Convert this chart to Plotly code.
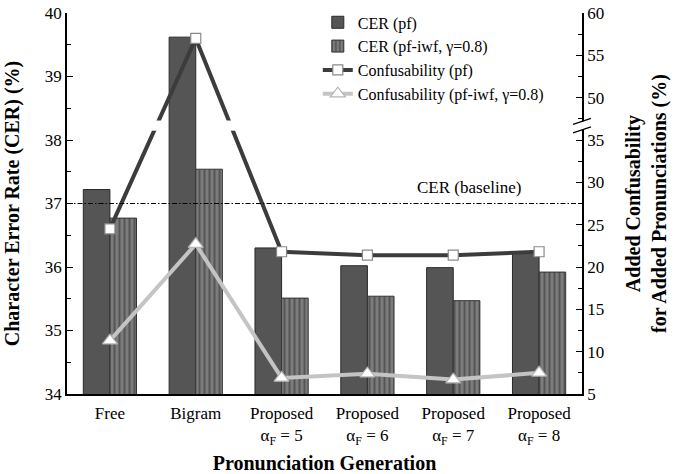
import plotly.graph_objects as go

# ---------------- data ----------------
categories = ["Free", "Bigram",
              "Proposed<br>α<sub>F</sub> = 5", "Proposed<br>α<sub>F</sub> = 6",
              "Proposed<br>α<sub>F</sub> = 7", "Proposed<br>α<sub>F</sub> = 8"]
cer_pf = [37.22, 39.62, 36.30, 36.02, 35.99, 36.22]
cer_pf_iwf = [36.77, 37.54, 35.51, 35.54, 35.47, 35.92]
conf_pf = [24.5, 57.0, 21.8, 21.4, 21.4, 21.8]
conf_pf_iwf = [11.3, 22.7, 6.9, 7.4, 6.7, 7.5]
baseline_cer = 37.0

left_ticks = [34, 35, 36, 37, 38, 39, 40]
right_ticks = [5, 10, 15, 20, 25, 30, 35, 50, 55, 60]

# broken right axis: the interval (40, 50) is cut out
BREAK_LO, BREAK_HI = 40, 50


def broken(v):
    return v if v <= BREAK_LO else v - (BREAK_HI - BREAK_LO)


FONT = "Liberation Serif"

fig = go.Figure()

fig.add_trace(go.Bar(
    x=categories, y=cer_pf, name="CER (pf)",
    marker=dict(color="#555555", line=dict(color="#2a2a2a", width=1)),
))
fig.add_trace(go.Bar(
    x=categories, y=cer_pf_iwf, name="CER (pf-iwf, γ=0.8)",
    marker=dict(color="#6e6e6e", line=dict(color="#333333", width=1),
                pattern=dict(shape="|", bgcolor="#7c7c7c", fgcolor="#555555",
                             size=5, solidity=0.4, fillmode="replace")),
))
fig.add_trace(go.Scatter(
    x=categories, y=[broken(v) for v in conf_pf], name="Confusability (pf)",
    yaxis="y2", mode="lines+markers",
    line=dict(color="#3c3c3c", width=4),
    marker=dict(symbol="square", size=10, color="white",
                line=dict(color="#8a8a8a", width=1.2)),
))
fig.add_trace(go.Scatter(
    x=categories, y=[broken(v) for v in conf_pf_iwf], name="Confusability (pf-iwf, γ=0.8)",
    yaxis="y2", mode="lines+markers",
    line=dict(color="#c4c4c4", width=4),
    marker=dict(symbol="triangle-up", size=13, color="white",
                line=dict(color="#b5b5b5", width=1.2)),
))

gap_lo, gap_hi = 36.1, 37.3
shapes = [
    # baseline CER
    dict(type="line", xref="paper", yref="y", x0=0, x1=1, y0=baseline_cer, y1=baseline_cer,
         line=dict(color="black", width=1.2, dash="5px,2px,1.5px,2px"), layer="above"),
    # gaps in the confusability lines where they cross the axis break
    dict(type="rect", xref="x", yref="y2", x0=0.36, x1=0.66, y0=gap_lo, y1=gap_hi,
         fillcolor="white", line=dict(width=0), layer="above"),
    dict(type="rect", xref="x", yref="y2", x0=1.34, x1=1.66, y0=gap_lo, y1=gap_hi,
         fillcolor="white", line=dict(width=0), layer="above"),
    # break on the right axis line
    dict(type="rect", xref="paper", yref="y2", xsizemode="pixel", xanchor=1,
         x0=-3, x1=3, y0=36.2, y1=37.2, fillcolor="white", line=dict(width=0), layer="above"),
    dict(type="line", xref="paper", yref="y2", xsizemode="pixel", xanchor=1,
         ysizemode="pixel", yanchor=36.2, x0=-9, x1=9, y0=-3, y1=3,
         line=dict(color="black", width=1.3), layer="above"),
    dict(type="line", xref="paper", yref="y2", xsizemode="pixel", xanchor=1,
         ysizemode="pixel", yanchor=37.2, x0=-9, x1=9, y0=-3, y1=3,
         line=dict(color="black", width=1.3), layer="above"),
]

fig.update_layout(
    width=677, height=474,
    margin=dict(l=67, r=95, t=13, b=80, autoexpand=False),
    paper_bgcolor="white", plot_bgcolor="white",
    font=dict(family=FONT, size=17, color="black"),
    barmode="group", bargap=0.38, bargroupgap=0,
    showlegend=True,
    legend=dict(x=0.487, y=1.02, xanchor="left", yanchor="top",
                bgcolor="rgba(0,0,0,0)", font=dict(family=FONT, size=16),
                tracegroupgap=0, itemwidth=30),
    xaxis=dict(
        showline=True, linecolor="black", linewidth=1.5, ticks="",
        showgrid=False, zeroline=False, ticklabelstandoff=3, automargin=False,
        tickfont=dict(family=FONT, size=17),
        title=dict(text="<b>Pronunciation Generation</b>",
                   font=dict(family=FONT, size=20), standoff=12),
    ),
    yaxis=dict(
        range=[34, 40], tickmode="array", tickvals=left_ticks, automargin=False,
        ticks="inside", ticklen=6, tickwidth=1.3, tickcolor="black",
        minor=dict(ticks="inside", ticklen=4, dtick=0.5, tick0=34, tickcolor="black", tickwidth=1.2),
        showline=True, linecolor="black", linewidth=1.5,
        showgrid=False, zeroline=False,
        tickfont=dict(family=FONT, size=17),
        title=dict(text="<b>Character Error Rate (CER) (%)</b>",
                   font=dict(family=FONT, size=20), standoff=20),
    ),
    yaxis2=dict(
        overlaying="y", side="right", anchor="x", automargin=False,
        range=[5, broken(60)], tickmode="array",
        tickvals=[broken(t) for t in right_ticks],
        ticktext=[str(t) for t in right_ticks],
        ticks="inside", ticklen=6, tickwidth=1.3, tickcolor="black",
        minor=dict(ticks="inside", ticklen=4, dtick=2.5, tick0=5, tickcolor="black", tickwidth=1.2),
        showline=True, linecolor="black", linewidth=1.5,
        showgrid=False, zeroline=False,
        tickfont=dict(family=FONT, size=17),
        title=dict(text="<b>Added Confusability<br>for Added Pronunciations (%)</b>",
                   font=dict(family=FONT, size=20), standoff=23),
    ),
    shapes=shapes,
    annotations=[
        dict(text="CER (baseline)", xref="paper", yref="y", x=0.885, y=baseline_cer,
             xanchor="right", yanchor="middle", yshift=16, showarrow=False,
             font=dict(family=FONT, size=17)),
    ],
)

fig.write_html("out.html")
